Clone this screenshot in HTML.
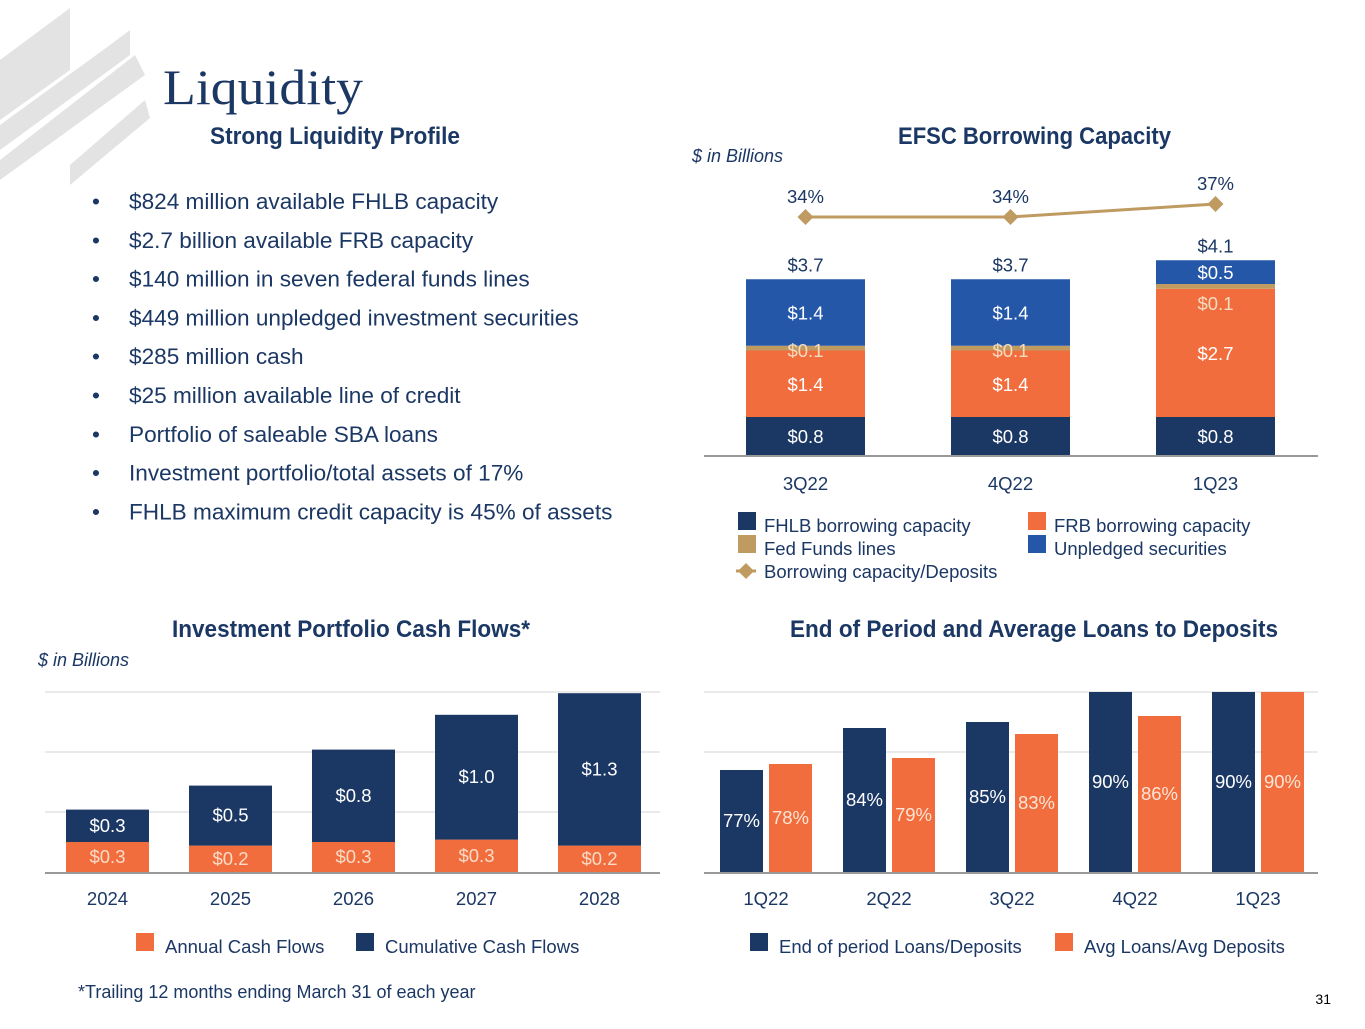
<!DOCTYPE html>
<html><head><meta charset="utf-8"><style>
html,body{margin:0;padding:0;background:#fff;}
body{width:1365px;height:1024px;position:relative;overflow:hidden;font-family:"Liberation Sans",sans-serif;}
svg text{font-family:"Liberation Sans",sans-serif;}
svg text.serif{font-family:"Liberation Serif",serif;}
.h{font-family:"Liberation Sans Narrow","Liberation Sans",sans-serif;font-weight:bold;fill:#1b3764;font-size:24px;}
</style></head><body>
<svg id="s" width="1365" height="1024" viewBox="0 0 1365 1024" xmlns="http://www.w3.org/2000/svg">
<g fill="#e3e3e3">
<polygon points="70,8 70,70 0,120 0,60"/>
<polygon points="0,125 110,45 130,30 130,55 0,150"/>
<polygon points="0,160 135,55 145,75 0,180"/>
<polygon points="70,165 145,100 150,118 70,185"/>
</g>
<text class="serif" x="163" y="104" font-size="50" fill="#1b3764" textLength="200" lengthAdjust="spacingAndGlyphs">Liquidity</text>
<text class="h" x="210" y="144" textLength="250" lengthAdjust="spacingAndGlyphs">Strong Liquidity Profile</text>
<g id="bullets" font-size="22.6" fill="#1b3764"></g>
<text class="h" x="898" y="144" textLength="273" lengthAdjust="spacingAndGlyphs">EFSC Borrowing Capacity</text>
<text x="692" y="162" font-size="18" font-style="italic" fill="#1b3764">$ in Billions</text>
<g id="c1"></g>
<text class="h" x="172" y="637" textLength="358" lengthAdjust="spacingAndGlyphs">Investment Portfolio Cash Flows*</text>
<text x="38" y="666" font-size="18" font-style="italic" fill="#1b3764">$ in Billions</text>
<g id="c2"></g>
<text class="h" x="790" y="637" textLength="488" lengthAdjust="spacingAndGlyphs">End of Period and Average Loans to Deposits</text>
<g id="c3"></g>
<text x="78" y="998" font-size="18" fill="#1b3764">*Trailing 12 months ending March 31 of each year</text>
<text x="1331" y="1004" font-size="14" fill="#000" text-anchor="end">31</text>
</svg>
<script>
const bulletItems=["$824 million available FHLB capacity","$2.7 billion available FRB capacity","$140 million in seven federal funds lines","$449 million unpledged investment securities","$285 million cash","$25 million available line of credit","Portfolio of saleable SBA loans","Investment portfolio/total assets of 17%","FHLB maximum credit capacity is 45% of assets"];
const bCats=["3Q22","4Q22","1Q23"];
const bFHLB=[0.8,0.8,0.8];
const bFRB=[1.4,1.4,2.7];
const bFed=[0.1,0.1,0.1];
const bUnp=[1.4,1.4,0.5];
const bTotals=["$3.7","$3.7","$4.1"];
const bRatio=[34,34,37];
const cfCats=["2024","2025","2026","2027","2028"];
const cfAnnual=[0.25,0.22,0.25,0.27,0.22];
const cfCum=[0.27,0.5,0.77,1.04,1.27];
const cfAnnualLbl=["$0.3","$0.2","$0.3","$0.3","$0.2"];
const cfCumLbl=["$0.3","$0.5","$0.8","$1.0","$1.3"];
const ldCats=["1Q22","2Q22","3Q22","4Q22","1Q23"];
const ldEnd=[77,84,85,90,90];
const ldAvg=[78,79,83,86,90];

const NS="http://www.w3.org/2000/svg";
const NAVY="#1b3764",OR="#f26d3d",BL="#2457a8",TAN="#bf9b62";
const FS=18.5;
function mk(p,tag,a,txt){const e=document.createElementNS(NS,tag);for(const k in a)e.setAttribute(k,a[k]);if(txt!==undefined)e.textContent=txt;p.appendChild(e);return e;}
const fmt=v=>"$"+v.toFixed(1);

const bl=document.getElementById('bullets');
bulletItems.forEach((t,i)=>{const y=209+i*38.8;
 const d=mk(bl,'text',{x:92,y:y});d.textContent="•";
 
 
 const e=mk(bl,'text',{x:129,y:y},t);
 
 });

// chart 1
const c1=document.getElementById('c1');
const b0=455,bs=47.5;const bx=i=>746+i*205;const bw=119;
const yv=v=>b0-v*bs;
mk(c1,'line',{x1:704,x2:1318,y1:b0+1,y2:b0+1,stroke:"#999","stroke-width":2});
const yr=v=>217-(v-34)*4.33;
const pending=[];
bCats.forEach((c,i)=>{
 let acc=0;
 const segs=[[bFHLB[i],NAVY,'bar-fhlb'],[bFRB[i],OR,'bar-frb'],[bFed[i],TAN,'bar-fedfunds'],[bUnp[i],BL,'bar-unpledged']];
 segs.forEach((s,j)=>{const y1=yv(acc+s[0]),y0=yv(acc);
  const r=mk(c1,'rect',{x:bx(i),y:y1,width:bw,height:y0-y1,fill:s[1]});
  
  
  let ly=(y0+y1)/2+7;
  if(j===2) ly = (i===2? y1+26 : (y0+y1)/2+9);
  pending.push([bx(i)+bw/2,ly,j===2?"#f3dcc0":"#fff",fmt(s[0])]);
  acc+=s[0];});
 const tt=mk(c1,'text',{x:bx(i)+bw/2,y:yv(acc)-8,"text-anchor":"middle","font-size":FS,fill:NAVY},bTotals[i]);
 
 
 const xl=mk(c1,'text',{x:bx(i)+bw/2,y:490,"text-anchor":"middle","font-size":FS,fill:NAVY},c);
 
 
});
pending.forEach(p=>{const t=mk(c1,'text',{x:p[0],y:p[1],"text-anchor":"middle","font-size":FS,fill:p[2]},p[3]);
 
 });
mk(c1,'polyline',{points:bRatio.map((v,i)=>(bx(i)+bw/2)+","+yr(v)).join(" "),fill:"none",stroke:TAN,"stroke-width":3});
bRatio.forEach((v,i)=>{const x=bx(i)+bw/2,y=yr(v);
 const d=mk(c1,'polygon',{points:`${x},${y-8} ${x+8},${y} ${x},${y+8} ${x-8},${y}`,fill:TAN});
 
 
 const t=mk(c1,'text',{x:x,y:y-14,"text-anchor":"middle","font-size":FS,fill:NAVY},v+"%");
 
 });
const lg=[[738,517,NAVY,"FHLB borrowing capacity"],[1028,517,OR,"FRB borrowing capacity"],[738,540,TAN,"Fed Funds lines"],[1028,540,BL,"Unpledged securities"]];
lg.forEach(l=>{const r=mk(c1,'rect',{x:l[0],y:l[1]-5,width:18,height:18,fill:l[2]});
 
 
 const t=mk(c1,'text',{x:l[0]+26,y:l[1]+15,"font-size":FS,fill:NAVY},l[3]);
 
 });
mk(c1,'line',{x1:736,x2:756,y1:571,y2:571,stroke:TAN,"stroke-width":3});
const ld=mk(c1,'polygon',{points:"746,563 754,571 746,579 738,571",fill:TAN});


const lt=mk(c1,'text',{x:764,y:578,"font-size":FS,fill:NAVY},"Borrowing capacity/Deposits");



// chart 2
const c2=document.getElementById('c2');
const b2=872,s2=120;const x2=i=>66+i*123;const w2=83;const y2=v=>b2-v*s2;
[0.5,1.0,1.5].forEach(v=>mk(c2,'line',{x1:45,x2:660,y1:y2(v),y2:y2(v),stroke:"#e4e4e4","stroke-width":1.5}));
mk(c2,'line',{x1:45,x2:660,y1:b2+1,y2:b2+1,stroke:"#999","stroke-width":2});
cfCats.forEach((c,i)=>{
 const a=mk(c2,'rect',{x:x2(i),y:y2(cfAnnual[i]),width:w2,height:cfAnnual[i]*s2,fill:OR});
 
 
 const top=cfAnnual[i]+cfCum[i];
 const b=mk(c2,'rect',{x:x2(i),y:y2(top),width:w2,height:cfCum[i]*s2,fill:NAVY});
 
 
 const t1=mk(c2,'text',{x:x2(i)+w2/2,y:y2(cfAnnual[i]/2)+6,"text-anchor":"middle","font-size":FS,fill:"#f8dcc8"},cfAnnualLbl[i]);
 
 
 const t2=mk(c2,'text',{x:x2(i)+w2/2,y:y2(cfAnnual[i]+cfCum[i]/2)+6,"text-anchor":"middle","font-size":FS,fill:"#fff"},cfCumLbl[i]);
 
 
 const xl=mk(c2,'text',{x:x2(i)+w2/2,y:905,"text-anchor":"middle","font-size":FS,fill:NAVY},c);
 
 
});
[[136,OR,"Annual Cash Flows"],[356,NAVY,"Cumulative Cash Flows"]].forEach(l=>{
 const r=mk(c2,'rect',{x:l[0],y:933,width:18,height:18,fill:l[1]});
 
 
 const t=mk(c2,'text',{x:l[0]+29,y:953,"font-size":FS,fill:NAVY},l[2]);
 
 });

// chart 3
const c3=document.getElementById('c3');
const b3=872,mn=60,s3=6;const y3=v=>b3-(v-mn)*s3;const x3=i=>720+i*123;const w3=43;
[80,90].forEach(v=>mk(c3,'line',{x1:704,x2:1318,y1:y3(v),y2:y3(v),stroke:"#e4e4e4","stroke-width":1.5}));
mk(c3,'line',{x1:704,x2:1318,y1:b3+1,y2:b3+1,stroke:"#999","stroke-width":2});
ldCats.forEach((c,i)=>{
 [[ldEnd[i],NAVY,0,'bar-end-period',"#fff"],[ldAvg[i],OR,49,'bar-average',"#fde5d5"]].forEach(s=>{
  const r=mk(c3,'rect',{x:x3(i)+s[2],y:y3(s[0]),width:w3,height:(s[0]-mn)*s3,fill:s[1]});
  
  
  const t=mk(c3,'text',{x:x3(i)+s[2]+w3/2,y:(y3(s[0])+b3)/2+6,"text-anchor":"middle","font-size":FS,fill:s[4]},s[0]+"%");
  
  });
 const xl=mk(c3,'text',{x:x3(i)+46,y:905,"text-anchor":"middle","font-size":FS,fill:NAVY},c);
 
 
});
[[750,NAVY,"End of period Loans/Deposits"],[1055,OR,"Avg Loans/Avg Deposits"]].forEach(l=>{
 const r=mk(c3,'rect',{x:l[0],y:933,width:18,height:18,fill:l[1]});
 
 
 const t=mk(c3,'text',{x:l[0]+29,y:953,"font-size":FS,fill:NAVY},l[2]);
 
 });
</script>
</body></html>
